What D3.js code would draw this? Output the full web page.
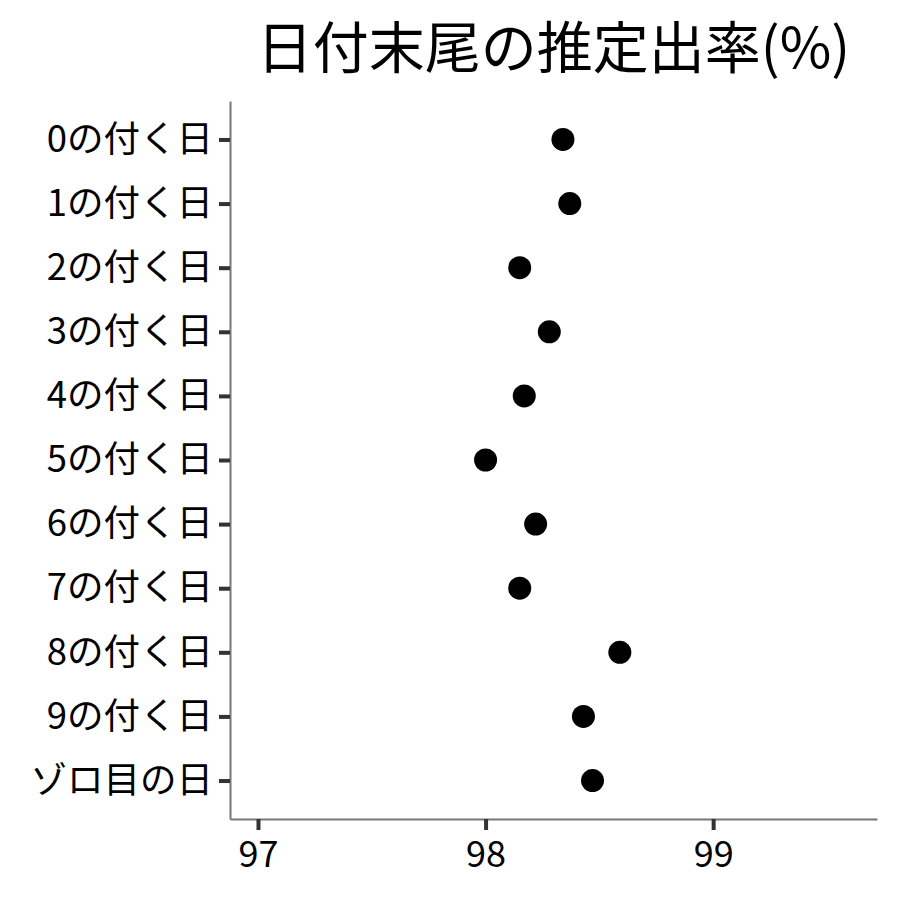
<!DOCTYPE html>
<html>
<head>
<meta charset="utf-8">
<script src="https://cdn.jsdelivr.net/npm/d3@7"></script>
<style>
  body { margin: 0; background: #fff; }
  text { font-family: "Noto Sans CJK JP", "Noto Sans", sans-serif; }
</style>
</head>
<body>
<div id="chart"></div>
<script>
// Daten
const categories = ["0の付く日", "1の付く日", "2の付く日", "3の付く日", "4の付く日",
  "5の付く日", "6の付く日", "7の付く日", "8の付く日", "9の付く日", "ゾロ目の日"];
const values = [98.34, 98.37, 98.15, 98.28, 98.17, 98.00, 98.22, 98.15, 98.59, 98.43, 98.47];
const xTicks = [97, 98, 99];
const title = "日付末尾の推定出率(%)";

const width = 900, height = 900;
const margin = { top: 101, right: 23, bottom: 81, left: 230 };
const innerW = width - margin.left - margin.right;
const innerH = height - margin.top - margin.bottom;

const svg = d3.select("#chart").append("svg")
  .attr("width", width)
  .attr("height", height);

const g = svg.append("g")
  .attr("transform", `translate(${margin.left},${margin.top})`);

const x = d3.scaleLinear().domain([96.877, 99.72]).range([0, innerW]);
const y = d3.scalePoint().domain(categories).range([0, innerH]).padding(0.6);

// x-Achse
const xAxis = g.append("g")
  .attr("transform", `translate(0,${innerH})`)
  .call(d3.axisBottom(x).tickValues(xTicks).tickFormat(d3.format("d"))
    .tickSize(11).tickPadding(6).tickSizeOuter(0));
xAxis.select(".domain").attr("stroke", "#777").attr("stroke-width", 2);
xAxis.selectAll(".tick line").attr("stroke", "#333").attr("stroke-width", 4);
xAxis.selectAll(".tick text").attr("fill", "#000").style("font-size", "36px")
  .attr("dy", "0.85em");

// y-Achse
const yAxis = g.append("g")
  .call(d3.axisLeft(y).tickSize(11).tickPadding(6).tickSizeOuter(0));
yAxis.select(".domain").attr("stroke", "#777").attr("stroke-width", 2);
yAxis.selectAll(".tick line").attr("stroke", "#333").attr("stroke-width", 4);
yAxis.selectAll(".tick text").attr("fill", "#000").style("font-size", "36.5px");

// Punkte
g.selectAll("circle.pt")
  .data(values)
  .join("circle")
  .attr("class", "pt")
  .attr("cx", d => x(d))
  .attr("cy", (d, i) => y(categories[i]))
  .attr("r", 11.5)
  .attr("fill", "#000");

// Titel
svg.append("text")
  .attr("x", margin.left + innerW / 2)
  .attr("y", 68)
  .attr("text-anchor", "middle")
  .style("font-size", "56px")
  .text(title);
</script>
</body>
</html>
